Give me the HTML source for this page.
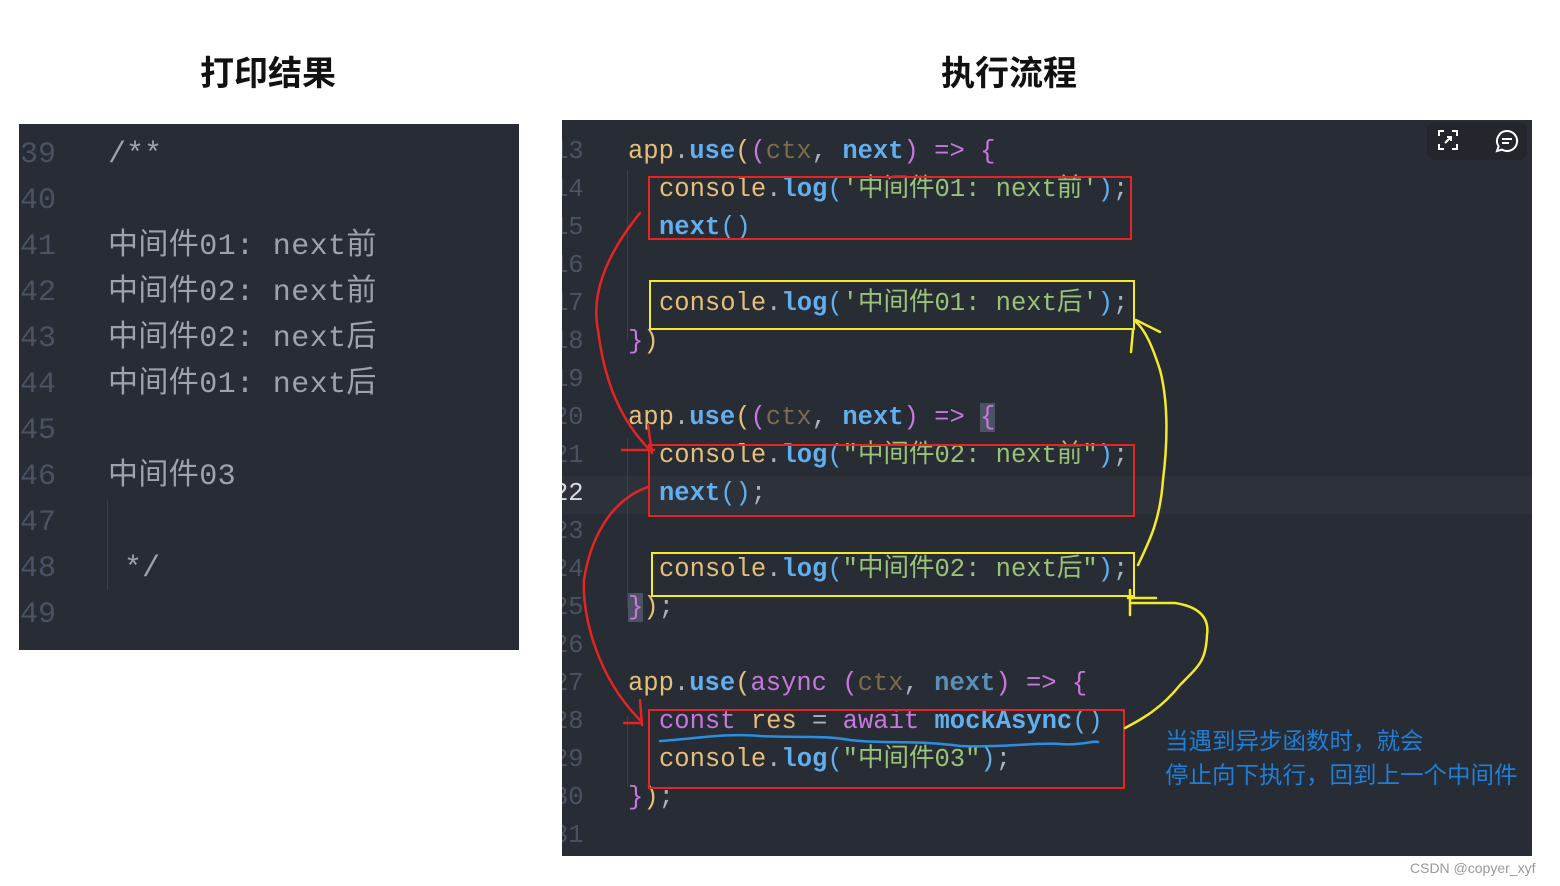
<!DOCTYPE html>
<html><head><meta charset="utf-8"><style>
body{margin:0;width:1560px;height:886px;background:#fff;position:relative;overflow:hidden;font-family:"Liberation Mono","Noto Sans CJK SC",monospace}
.t{position:absolute;font-family:"Liberation Sans","Noto Sans CJK SC",sans-serif;font-size:34px;font-weight:bold;color:#111;transform:translateX(-50%)}
.p{position:absolute;overflow:hidden}
.l{position:absolute;white-space:pre}
#L{left:19px;top:124px;width:500px;height:526px;background:#282c34;font-size:30px;line-height:46px;color:#9ea3ab}
#L .n{position:absolute;left:1px;color:#4b5263}
#R{left:562px;top:120px;width:970px;height:736px;background:#282c34;font-size:25.5px;line-height:38px;color:#abb2bf}
#R .n{position:absolute;left:-9px;color:#4b5263;font-size:25.5px}
.y{color:#e5c07b}.b{color:#61afef}.bb{color:#61afef;font-weight:bold}.pu{color:#c678dd}.g{color:#98c379}.br{color:#7d6c4c}.gr{color:#abb2bf}
.box{position:absolute;border:2px solid}
</style></head><body>
<div class="t" style="left:268px;top:46px">打印结果</div>
<div class="t" style="left:1009px;top:46px">执行流程</div>

<div id="L" class="p">
<div class="n" style="top:8px">39</div><div class="l" style="left:89px;top:8px">/**</div>
<div class="n" style="top:54px">40</div>
<div class="n" style="top:100px">41</div><div class="l" style="left:89px;top:100px;letter-spacing:0.4px">中间件01: next前</div>
<div class="n" style="top:146px">42</div><div class="l" style="left:89px;top:146px;letter-spacing:0.4px">中间件02: next前</div>
<div class="n" style="top:192px">43</div><div class="l" style="left:89px;top:192px;letter-spacing:0.4px">中间件02: next后</div>
<div class="n" style="top:238px">44</div><div class="l" style="left:89px;top:238px;letter-spacing:0.4px">中间件01: next后</div>
<div class="n" style="top:284px">45</div>
<div class="n" style="top:330px">46</div><div class="l" style="left:89px;top:330px;letter-spacing:0.4px">中间件03</div>
<div class="n" style="top:376px">47</div>
<div class="n" style="top:422px">48</div><div class="l" style="left:105px;top:422px">*/</div>
<div class="n" style="top:468px">49</div>
<div style="position:absolute;left:88px;top:376px;width:1px;height:90px;background:#3b4048"></div>
</div>

<div id="R" class="p">
<div style="position:absolute;left:0;top:356px;width:970px;height:38px;background:#2d313a"></div>
<div style="position:absolute;left:865px;top:2px;width:100px;height:38px;background:#23262d;border-radius:8px"></div>
<svg style="position:absolute;left:874px;top:8px" width="24" height="24" viewBox="0 0 24 24" fill="none" stroke="#fff" stroke-width="2"><path d="M3 8V3h5M16 3h5v5M21 16v5h-5M8 21H3v-5M9 15l6-6M11 9h4v4"/></svg>
<svg style="position:absolute;left:932px;top:8px" width="26" height="26" viewBox="0 0 26 26" fill="none" stroke="#fff" stroke-width="2"><path d="M13 3a10 10 0 1 1-5 18.6L3 23l1.6-4.6A10 10 0 0 1 13 3z"/><path d="M8 11h10M8 15h7"/></svg>
<div style="position:absolute;left:65px;top:50px;width:1px;height:170px;background:#3b4048"></div>
<div style="position:absolute;left:65px;top:318px;width:1px;height:170px;background:#3b4048"></div>
<div style="position:absolute;left:65px;top:596px;width:1px;height:70px;background:#3b4048"></div>
<div class="n" style="top:13px">13</div><div class="l" style="left:66px;top:13px"><span class="y">app</span>.<span class="bb">use</span><span class="y">(</span><span class="pu">(</span><span class="br">ctx</span>, <span class="bb">next</span><span class="pu">)</span> <span class="pu">=&gt;</span> <span class="pu">{</span></div>
<div class="n" style="top:51px">14</div><div class="l" style="left:97px;top:51px"><span class="y">console</span>.<span class="bb">log</span><span class="b">(</span><span class="g">'中间件01: next前'</span><span class="b">)</span>;</div>
<div class="n" style="top:89px">15</div><div class="l" style="left:97px;top:89px"><span class="bb">next</span><span class="b">()</span></div>
<div class="n" style="top:127px">16</div>
<div class="n" style="top:165px">17</div><div class="l" style="left:97px;top:165px"><span class="y">console</span>.<span class="bb">log</span><span class="b">(</span><span class="g">'中间件01: next后'</span><span class="b">)</span>;</div>
<div class="n" style="top:203px">18</div><div class="l" style="left:66px;top:203px"><span class="pu">}</span><span class="y">)</span></div>
<div class="n" style="top:241px">19</div>
<div class="n" style="top:279px">20</div><div class="l" style="left:66px;top:279px"><span class="y">app</span>.<span class="bb">use</span><span class="y">(</span><span class="pu">(</span><span class="br">ctx</span>, <span class="bb">next</span><span class="pu">)</span> <span class="pu">=&gt;</span> <span class="pu" style="background:#4b5263">{</span></div>
<div class="n" style="top:317px">21</div><div class="l" style="left:97px;top:317px"><span class="y">console</span>.<span class="bb">log</span><span class="b">(</span><span class="g">"中间件02: next前"</span><span class="b">)</span>;</div>
<div class="n" style="top:355px;color:#d7dae0">22</div><div class="l" style="left:97px;top:355px"><span class="bb">next</span><span class="b">()</span>;</div>
<div class="n" style="top:393px">23</div>
<div class="n" style="top:431px">24</div><div class="l" style="left:97px;top:431px"><span class="y">console</span>.<span class="bb">log</span><span class="b">(</span><span class="g">"中间件02: next后"</span><span class="b">)</span>;</div>
<div class="n" style="top:469px">25</div><div class="l" style="left:66px;top:469px"><span class="pu" style="background:#4b5263">}</span><span class="y">)</span>;</div>
<div class="n" style="top:507px">26</div>
<div class="n" style="top:545px">27</div><div class="l" style="left:66px;top:545px"><span class="y">app</span>.<span class="bb">use</span><span class="y">(</span><span class="pu">async</span> <span class="pu">(</span><span class="br">ctx</span>, <span class="bb" style="color:#5a8fb8">next</span><span class="pu">)</span> <span class="pu">=&gt;</span> <span class="pu">{</span></div>
<div class="n" style="top:583px">28</div><div class="l" style="left:97px;top:583px"><span class="pu">const</span> <span class="y">res</span> = <span class="pu">await</span> <span class="bb">mockAsync</span><span class="b">()</span></div>
<div class="n" style="top:621px">29</div><div class="l" style="left:97px;top:621px"><span class="y">console</span>.<span class="bb">log</span><span class="b">(</span><span class="g">"中间件03"</span><span class="b">)</span>;</div>
<div class="n" style="top:659px">30</div><div class="l" style="left:66px;top:659px"><span class="pu">}</span><span class="y">)</span>;</div>
<div class="n" style="top:697px">31</div>
</div>

<div class="box" style="left:648px;top:176px;width:480px;height:60px;border-color:#e52521"></div>
<div class="box" style="left:649px;top:280px;width:482px;height:46px;border-color:#f3ea2a"></div>
<div class="box" style="left:648px;top:444px;width:483px;height:69px;border-color:#e52521"></div>
<div class="box" style="left:651px;top:552px;width:480px;height:41px;border-color:#f3ea2a"></div>
<div class="box" style="left:648px;top:709px;width:473px;height:76px;border-color:#e52521"></div>

<svg style="position:absolute;left:0;top:0" width="1560" height="886" fill="none" stroke-width="2.5" stroke-linecap="round">
<g stroke="#e52521">
<path d="M640 213C610 250 590 290 598 330C604 380 620 420 650 450"/>
<path d="M622 450h32M648 425l4 28"/>
<path d="M648 487C610 500 590 540 584 580C582 620 600 680 640 720"/>
<path d="M624 723h18M640 700l2 25"/>
</g>
<g stroke="#f3ea2a">
<path d="M1138 565C1150 540 1160 520 1163 480C1168 440 1168 400 1160 370C1152 345 1145 330 1136 322"/>
<path d="M1136 320l24 12M1133 330l-2 22"/>
<path d="M1128 598h28M1130 590v25M1130 603h45C1195 606 1210 615 1207 635C1206 660 1200 665 1180 685C1160 710 1140 720 1125 728"/>
</g>
<path d="M660 741C700 738 730 733 760 736C800 738 820 735 850 740C880 744 920 740 960 746C1000 748 1040 742 1060 744C1080 746 1095 740 1098 742" stroke="#2a8fe0" stroke-width="2.5"/>
</svg>

<div style="position:absolute;left:1165px;top:724px;font-family:'Liberation Sans','Noto Sans CJK SC',sans-serif;font-size:23.5px;color:#1f7fd8;line-height:34px;white-space:nowrap">当遇到异步函数时，就会<br>停止向下执行，回到上一个中间件</div>
<div style="position:absolute;left:1410px;top:860px;font-family:'Liberation Sans',sans-serif;font-size:14px;color:#999">CSDN @copyer_xyf</div>
</body></html>
